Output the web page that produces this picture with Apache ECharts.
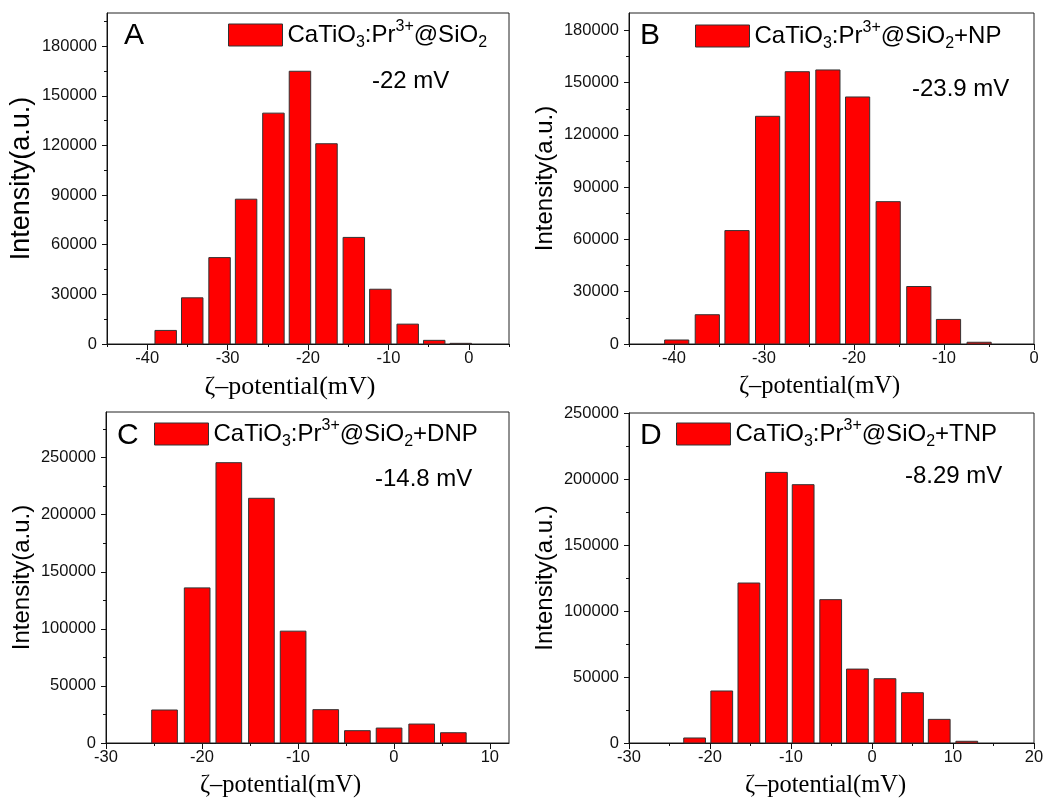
<!DOCTYPE html>
<html><head><meta charset="utf-8">
<script src="https://cdn.jsdelivr.net/npm/echarts@6/dist/echarts.min.js"></script>
<style>html,body{margin:0;padding:0;background:#fff}#c{width:1052px;height:803px}</style>
</head><body><div id="c"></div>
<script>
// ---- data ----
const zetaA = [-37.7, -34.4, -31.0, -27.7, -24.3, -21.0, -17.7, -14.3, -11.0, -7.6, -4.3, -1.0];
const intensityA = [8200, 27900, 52200, 87500, 139500, 164800, 121000, 64400, 33100, 12000, 2200, 400];
const zetaB = [-39.7, -36.3, -33.0, -29.6, -26.3, -22.9, -19.6, -16.2, -12.8, -9.5, -6.1];
const intensityB = [2300, 16800, 65100, 130700, 156300, 157300, 141800, 81700, 33000, 14100, 1000];
const zetaC = [-23.9, -20.5, -17.2, -13.8, -10.5, -7.1, -3.8, -0.5, 2.9, 6.2];
const intensityC = [28900, 135900, 245600, 214400, 98000, 29200, 10800, 13100, 16600, 9000];
const zetaD = [-21.9, -18.55, -15.2, -11.8, -8.5, -5.1, -1.8, 1.6, 5.0, 8.3, 11.7];
const intensityD = [3800, 39400, 121200, 205000, 195700, 108600, 56000, 48700, 38100, 17900, 1300];

const xTicksA = [-40, -30, -20, -10, 0];
const xTicksB = [-40, -30, -20, -10, 0];
const xTicksC = [-30, -20, -10, 0, 10];
const xTicksD = [-30, -20, -10, 0, 10, 20];
const yTicksA = [0, 30000, 60000, 90000, 120000, 150000, 180000];
const yTicksB = [0, 30000, 60000, 90000, 120000, 150000, 180000];
const yTicksC = [0, 50000, 100000, 150000, 200000, 250000];
const yTicksD = [0, 50000, 100000, 150000, 200000, 250000];

const sampleNames = ['CaTiO3:Pr3+@SiO2', 'CaTiO3:Pr3+@SiO2+NP', 'CaTiO3:Pr3+@SiO2+DNP', 'CaTiO3:Pr3+@SiO2+TNP'];
const panelLetters = ['A', 'B', 'C', 'D'];
const zetaNotes = ['-22 mV', '-23.9 mV', '-14.8 mV', '-8.29 mV'];
const xName = 'ζ–potential(mV)';
const yName = 'Intensity(a.u.)';

// ---- layout ----
const SANS = '"Liberation Sans", Arial, sans-serif';
const SERIF = '"Liberation Serif", "Times New Roman", serif';
const panels = [
  {x: zetaA, y: intensityA, xt: xTicksA, yt: yTicksA, grid: {left: 107, top: 13, width: 402, height: 331},
   xMin: -45, xMax: 5, yMax: 200000, yStep: 30000, xNameSize: 26, xShift: -18, yNameSize: 27,
   letter: {left: 124, top: 21}, note: {left: 372, top: 69}, legend: {left: 228, top: 19}},
  {x: zetaB, y: intensityB, xt: xTicksB, yt: yTicksB, grid: {left: 629, top: 13, width: 405, height: 331},
   xMin: -45, xMax: 0, yMax: 190000, yStep: 30000, xNameSize: 24.5, xShift: -12, yNameSize: 24,
   letter: {left: 640, top: 21}, note: {left: 912, top: 77}, legend: {left: 695, top: 20}},
  {x: zetaC, y: intensityC, xt: xTicksC, yt: yTicksC, grid: {left: 106, top: 412, width: 403, height: 331},
   xMin: -30, xMax: 12, yMax: 290000, yStep: 50000, xNameSize: 24.5, xShift: -27, yNameSize: 24,
   letter: {left: 117, top: 421}, note: {left: 375, top: 467}, legend: {left: 154, top: 418}},
  {x: zetaD, y: intensityD, xt: xTicksD, yt: yTicksD, grid: {left: 629, top: 413, width: 405, height: 330},
   xMin: -30, xMax: 20, yMax: 250000, yStep: 50000, xNameSize: 24.5, xShift: -6, yNameSize: 24,
   letter: {left: 640, top: 421}, note: {left: 905, top: 464}, legend: {left: 676, top: 418}}
];

function steps(min, max, step) {
  const out = [];
  for (let v = min; v <= max + 1e-9; v += step) out.push(Math.round(v * 1000) / 1000);
  return out;
}

const grids = [], xAxes = [], yAxes = [], series = [], legends = [], titles = [];
const lineStyle = {color: '#111', width: 1};
const plain = v => String(v);
panels.forEach((p, i) => {
  grids.push(Object.assign({show: true, borderColor: '#222', borderWidth: 1, backgroundColor: 'transparent'}, p.grid));
  // minor x axis (used by series)
  xAxes.push({type: 'value', gridIndex: i, min: p.xMin, max: p.xMax, position: 'bottom',
    axisLine: {show: true, onZero: false, lineStyle}, splitLine: {show: false},
    axisTick: {show: true, inside: false, length: 3, lineStyle, customValues: steps(p.xMin, p.xMax, 5)},
    axisLabel: {show: false},
    name: xName, nameLocation: 'middle', nameGap: 30,
    nameTextStyle: {fontFamily: SERIF, fontSize: p.xNameSize, color: '#000',
      padding: p.xShift < 0 ? [0, -2 * p.xShift, 0, 0] : [0, 0, 0, 2 * p.xShift]}});
  // major x axis
  xAxes.push({type: 'value', gridIndex: i, min: p.xMin, max: p.xMax, position: 'bottom',
    axisLine: {show: false, onZero: false}, splitLine: {show: false},
    axisTick: {show: true, length: 6, lineStyle, customValues: p.xt},
    axisLabel: {show: true, customValues: p.xt, margin: 6, formatter: plain, fontFamily: SANS, fontSize: 16.5, color: '#111'}});
  // minor y axis (used by series)
  yAxes.push({type: 'value', gridIndex: i, min: 0, max: p.yMax, position: 'left',
    axisLine: {show: true, onZero: false, lineStyle}, splitLine: {show: false},
    axisTick: {show: true, length: 3, lineStyle, customValues: steps(p.yStep / 2, p.yMax, p.yStep)},
    axisLabel: {show: false},
    name: yName, nameLocation: 'middle', nameGap: 72, nameRotate: 90,
    nameTextStyle: {fontFamily: SANS, fontSize: p.yNameSize, color: '#000'}});
  // major y axis
  yAxes.push({type: 'value', gridIndex: i, min: 0, max: p.yMax, position: 'left',
    axisLine: {show: false, onZero: false}, splitLine: {show: false},
    axisTick: {show: true, length: 5, lineStyle, customValues: p.yt},
    axisLabel: {show: true, customValues: p.yt, margin: 10, formatter: plain, fontFamily: SANS, fontSize: 16.5, color: '#111'}});

  const spacing = (p.x[p.x.length - 1] - p.x[0]) / (p.x.length - 1);
  const halfW = spacing * 0.8 / 2;
  series.push({
    type: 'custom', name: sampleNames[i], xAxisIndex: 2 * i, yAxisIndex: 2 * i,
    data: p.x.map((v, k) => [v, p.y[k]]),
    encode: {x: 0, y: 1},
    itemStyle: {color: '#ff0000', borderColor: '#333', borderWidth: 1},
    renderItem: function (params, api) {
      const xv = api.value(0), yv = api.value(1);
      const p0 = api.coord([xv - halfW, yv]);
      const p1 = api.coord([xv + halfW, 0]);
      return {type: 'rect', shape: {x: p0[0], y: p0[1], width: p1[0] - p0[0], height: p1[1] - p0[1]},
        style: {fill: '#ff0000', stroke: '#333', lineWidth: 1}};
    }
  });
  legends.push({
    data: [{name: sampleNames[i], itemStyle: {color: '#ff0000', borderColor: '#333', borderWidth: 1}}],
    left: p.legend.left, top: p.legend.top, padding: 0, itemGap: 0, itemWidth: 54, itemHeight: 22,
    icon: 'rect', selectedMode: false,
    formatter: n => n.replace('TiO3', 'TiO{sub|3}').replace('Pr3+', 'Pr{sup|3+}').replace('SiO2', 'SiO{sub|2}'),
    textStyle: {fontFamily: SANS, fontSize: 24, color: '#000', lineHeight: 32,
      rich: {
        sub: {fontFamily: SANS, fontSize: 16, lineHeight: 16, verticalAlign: 'bottom', color: '#000'},
        sup: {fontFamily: SANS, fontSize: 16, lineHeight: 16, verticalAlign: 'top', color: '#000'}
      }}
  });
  titles.push({text: panelLetters[i], left: p.letter.left, top: p.letter.top, padding: 0,
    textStyle: {fontFamily: SANS, fontSize: 30, fontWeight: 'normal', color: '#000'}});
  titles.push({text: zetaNotes[i], left: p.note.left, top: p.note.top, padding: 0,
    textStyle: {fontFamily: SANS, fontSize: 24, fontWeight: 'normal', color: '#000'}});
});

const chart = echarts.init(document.getElementById('c'), null, {renderer: 'canvas'});
chart.setOption({
  backgroundColor: '#fff',
  animation: false,
  title: titles,
  legend: legends,
  grid: grids,
  xAxis: xAxes,
  yAxis: yAxes,
  series: series
});
</script></body></html>
